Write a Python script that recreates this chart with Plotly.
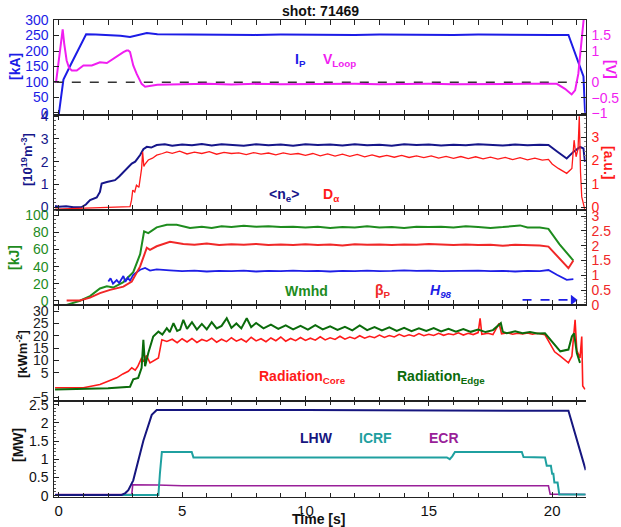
import plotly.graph_objects as go

# ---------------- data (time [s], value) ----------------
IP_KA = [(-0.05, -6), (0.0, -6), (0.08, 42), (0.19, 108), (0.5, 158), (0.8, 205), (1.11, 254), (1.5, 253),
         (2.0, 252), (2.5, 249), (2.89, 245), (3.2, 252), (3.57, 258), (4.0, 254), (5, 253), (6, 252), (7, 253),
         (8, 252), (9, 253), (10, 252), (11, 253), (12, 252), (13, 253), (14, 252), (15, 253), (16, 252),
         (17, 253), (18, 252), (19, 253), (20, 252), (20.66, 252), (21.0, 179), (21.27, 118), (21.33, 10), (21.36, -6)]
VLOOP_V = [(-0.11, 0.0), (0.03, 0.8), (0.16, 1.7), (0.22, 1.25), (0.32, 0.7), (0.42, 0.46), (0.53, 0.38),
           (0.73, 0.38), (1.0, 0.54), (1.34, 0.54), (1.67, 0.64), (1.95, 0.62), (2.28, 0.8), (2.62, 0.97),
           (2.75, 1.02), (2.82, 1.02), (2.89, 0.97), (3.02, 0.54), (3.16, 0.27), (3.36, -0.05), (3.5, -0.14),
           (4.0, -0.08), (5, -0.06), (6, -0.05), (7, -0.07), (8, -0.05), (9, -0.06), (10, -0.05), (11, -0.06),
           (12, -0.05), (13, -0.06), (14, -0.05), (15, -0.05), (16, -0.06), (17, -0.05), (18, -0.06), (19, -0.05),
           (20.19, -0.05), (20.52, -0.21), (20.79, -0.39), (20.93, -0.26), (21.06, 0.27), (21.2, 1.55), (21.3, 2.2)]
ZERO_LINE_T = [-0.2, 21.05]

NE_E19 = [(-0.15, 0.05), (0.0, 0.02), (0.3, 0.04), (0.6, 0.0), (0.93, 0.01), (1.1, 0.12), (1.27, 0.31),
          (1.54, 0.43), (1.67, 0.67), (1.74, 1.04), (1.95, 1.11), (2.28, 1.19), (2.45, 1.35), (2.62, 1.55),
          (2.8, 1.75), (2.96, 1.92), (3.1, 2.0), (3.3, 2.29), (3.43, 2.55), (3.57, 2.65), (3.75, 2.62),
          (3.97, 2.73), (4.3, 2.76), (4.6, 2.7), (5.0, 2.75), (5.4, 2.72), (5.8, 2.78), (6.2, 2.71), (6.6, 2.76),
          (7.0, 2.74), (7.5, 2.7), (8, 2.77), (8.5, 2.72), (9, 2.75), (9.5, 2.7), (10, 2.76), (10.5, 2.73),
          (11, 2.75), (11.5, 2.71), (12, 2.77), (12.5, 2.72), (13, 2.74), (13.5, 2.7), (14, 2.76), (14.5, 2.73),
          (15, 2.75), (15.5, 2.71), (16, 2.74), (16.5, 2.72), (17, 2.77), (17.5, 2.73), (18, 2.71), (18.5, 2.75),
          (19, 2.72), (19.5, 2.74), (19.85, 2.73), (20.2, 2.45), (20.59, 2.14), (20.86, 2.43), (21.13, 2.65),
          (21.27, 2.58), (21.33, 1.99)]
DALPHA_AU = [(-0.15, -0.08), (0.5, -0.06), (1.0, -0.05), (1.5, -0.03), (2.0, -0.02), (2.5, 0.0), (2.89, 0.02),
             (2.95, 0.3), (3.0, 0.73), (3.08, 0.65), (3.15, 0.94), (3.25, 0.85), (3.36, 1.66), (3.4, 2.37),
             (3.45, 1.75), (3.5, 1.85), (3.63, 2.02), (3.8, 2.1), (3.97, 2.23), (4.2, 2.3), (4.38, 2.37),
             (4.6, 2.31), (4.9, 2.4), (5.2, 2.28), (5.5, 2.36), (5.8, 2.3), (6.1, 2.38), (6.4, 2.27), (6.7, 2.35),
             (7.0, 2.3), (7.3, 2.33), (7.6, 2.25), (7.9, 2.34), (8.2, 2.27), (8.5, 2.32), (8.8, 2.24), (9.1, 2.33),
             (9.4, 2.26), (9.7, 2.3), (10.0, 2.22), (10.3, 2.3), (10.6, 2.2), (10.9, 2.28), (11.2, 2.19),
             (11.5, 2.27), (11.8, 2.18), (12.1, 2.26), (12.4, 2.16), (12.7, 2.24), (13.0, 2.15), (13.3, 2.22),
             (13.6, 2.14), (13.9, 2.22), (14.2, 2.13), (14.5, 2.2), (14.8, 2.12), (15.1, 2.2), (15.4, 2.1),
             (15.7, 2.18), (16.0, 2.09), (16.3, 2.17), (16.6, 2.08), (16.9, 2.16), (17.2, 2.07), (17.5, 2.14),
             (17.8, 2.06), (18.1, 2.13), (18.4, 2.04), (18.7, 2.12), (19.0, 2.03), (19.3, 2.1), (19.6, 2.02),
             (19.85, 2.05), (20.0, 1.85), (20.25, 1.66), (20.59, 1.45), (20.8, 1.66), (20.89, 2.87), (20.97, 2.16),
             (21.05, 2.5), (21.1, 3.9), (21.15, 1.5), (21.2, 0.44), (21.33, -0.13)]

WMHD_KJ = [(0.32, -4.6), (0.86, 0.3), (1.27, 5.7), (1.67, 14.5), (1.95, 17.1), (2.21, 15.6), (2.62, 22),
           (3.02, 33.5), (3.3, 54.5), (3.46, 81), (3.63, 79), (3.97, 85.7), (4.38, 88.8), (4.78, 88.8),
           (5.32, 84.9), (5.8, 86.5), (6.2, 85), (6.6, 87), (7.0, 86), (7.5, 87.5), (8.0, 86.5), (8.5, 87),
           (9.0, 86), (9.5, 86.5), (10.0, 85.5), (10.5, 86.5), (11, 85), (11.5, 86), (12, 85.5), (12.5, 87),
           (13, 85.5), (13.5, 86), (14, 85), (14.5, 86.5), (15, 86), (15.5, 86.5), (16, 85.5), (16.5, 87),
           (17, 86), (17.5, 85), (18, 86), (18.5, 87.5), (18.7, 88), (19.0, 85.5), (19.5, 85.5), (19.85, 84),
           (20.3, 66), (20.86, 47)]
BETA_P = [(0.32, 0.15), (0.86, 0.15), (1.27, 0.25), (1.67, 0.4), (2.08, 0.51), (2.62, 0.62), (2.96, 0.79),
          (3.3, 1.3), (3.57, 1.93), (3.7, 1.86), (3.97, 1.98), (4.51, 2.13), (5.05, 2.06), (5.5, 2.03),
          (6, 2.07), (6.5, 2.02), (7, 2.05), (7.5, 2.03), (8, 2.06), (8.5, 2.02), (9, 2.04), (9.5, 2.02),
          (10, 2.05), (10.5, 2.02), (11, 2.04), (11.5, 2.01), (12, 2.05), (12.5, 2.03), (13, 2.04), (13.5, 2.02),
          (14, 2.04), (14.5, 2.03), (15, 2.06), (15.5, 2.04), (16, 2.02), (16.5, 2.04), (17, 2.02), (17.5, 2.03),
          (18, 2.0), (18.5, 2.03), (19, 2.02), (19.5, 2.01), (19.85, 1.97), (20.3, 1.55), (20.66, 1.24),
          (20.86, 1.5)]
H98 = [(2.01, 0.79), (2.1, 0.9), (2.2, 0.72), (2.35, 0.84), (2.45, 0.74), (2.62, 0.98), (2.7, 0.78),
       (2.8, 0.92), (2.89, 0.82), (3.02, 1.02), (3.3, 1.19), (3.5, 1.25), (3.7, 1.16), (3.97, 1.2), (4.5, 1.17),
       (5, 1.14), (5.5, 1.16), (6, 1.13), (6.5, 1.15), (7, 1.14), (7.5, 1.16), (8, 1.13), (8.5, 1.15),
       (9, 1.14), (9.5, 1.16), (10, 1.14), (10.5, 1.15), (11, 1.13), (11.5, 1.15), (12, 1.14), (12.5, 1.16),
       (13, 1.14), (13.5, 1.15), (14, 1.17), (14.5, 1.15), (15, 1.16), (15.5, 1.14), (16, 1.15), (16.5, 1.14),
       (17, 1.16), (17.5, 1.14), (18, 1.15), (18.5, 1.13), (19, 1.15), (19.5, 1.14), (19.85, 1.18),
       (20.19, 1.02), (20.59, 0.85), (20.86, 0.87)]
ARROW_T = [18.8, 20.75, 20.85]
ARROW_Y = 0.17

RAD_CORE = [(-0.15, -1.1), (1.0, -1.1), (1.67, 0.24), (2.35, 2.9), (2.6, 4.5), (2.82, 5.6), (2.96, 7.0),
            (3.1, 6.0), (3.2, 7.5), (3.36, 11), (3.45, 9.5), (3.55, 12), (3.7, 9), (4.04, 11), (4.18, 18.4),
            (4.38, 17.7), (4.6, 18.6), (4.8, 17.2), (5.0, 18.8), (5.2, 17.5), (5.4, 18.9), (5.6, 17.3),
            (5.8, 18.5), (6.0, 17.8), (6.2, 19.0), (6.4, 17.4), (6.6, 18.6), (6.8, 17.6), (7.0, 19.2), (7.2, 17.8),
            (7.4, 18.7), (7.6, 17.5), (7.8, 19.4), (8.0, 17.9), (8.2, 18.8), (8.4, 17.6), (8.6, 19.1), (8.8, 18.0),
            (9.0, 19.5), (9.2, 17.8), (9.4, 18.9), (9.6, 18.0), (9.8, 19.3), (10.0, 18.1), (10.2, 19.0),
            (10.4, 18.2), (10.6, 19.6), (10.8, 18.3), (11.0, 19.2), (11.2, 18.5), (11.4, 19.8), (11.6, 18.6),
            (11.8, 19.5), (12.0, 18.8), (12.2, 20.0), (12.4, 19.0), (12.6, 19.8), (12.8, 19.2), (13.0, 20.3),
            (13.2, 19.3), (13.4, 20.1), (13.6, 19.5), (13.8, 20.6), (14.0, 19.7), (14.2, 20.4), (14.4, 19.8),
            (14.6, 20.9), (14.8, 20.0), (15.0, 20.6), (15.2, 20.1), (15.4, 21.0), (15.6, 20.2), (15.8, 20.8),
            (16.0, 20.4), (16.2, 21.2), (16.4, 20.3), (16.6, 21.0), (16.8, 20.5), (17.0, 21.3), (17.08, 27.1),
            (17.15, 20.6), (17.4, 21.0), (17.6, 20.5), (17.85, 25.0), (17.95, 20.8), (18.2, 21.2), (18.4, 20.6),
            (18.6, 21.0), (18.8, 20.7), (19.0, 21.1), (19.2, 20.6), (19.4, 21.0), (19.71, 20.4), (19.92, 16.4),
            (20.1, 13.5), (20.33, 11.7), (20.5, 10.2), (20.66, 9.0), (20.8, 11.7), (20.93, 26.5), (21.0, 14),
            (21.13, 11), (21.2, 19.7), (21.24, -0.4), (21.33, -1.8)]
RAD_EDGE = [(-0.15, -1.8), (1.0, -1.6), (2.0, -1.3), (2.89, -0.7), (3.02, 2.3), (3.22, 2.9), (3.36, 7.0),
            (3.43, 18.4), (3.5, 7.6), (3.63, 13), (3.83, 19.7), (4.04, 21.7), (4.2, 20.5), (4.38, 23.1),
            (4.5, 21.5), (4.65, 25.1), (4.8, 22.0), (4.92, 22.5), (5.05, 26.5), (5.2, 22.8), (5.4, 25.5),
            (5.6, 22.5), (5.8, 24.8), (6.0, 22.6), (6.2, 25.5), (6.4, 23.0), (6.6, 24.0), (6.81, 27.1),
            (7.0, 23.2), (7.2, 25.0), (7.4, 23.0), (7.62, 27.1), (7.8, 23.5), (8.0, 25.2), (8.3, 23.0),
            (8.6, 24.5), (8.9, 22.8), (9.2, 24.2), (9.5, 22.6), (9.8, 24.0), (10.1, 22.5), (10.4, 24.3),
            (10.7, 22.6), (11.0, 23.8), (11.3, 22.4), (11.6, 23.6), (11.9, 22.2), (12.2, 24.2), (12.5, 22.3),
            (12.8, 23.5), (13.1, 22.2), (13.4, 23.4), (13.7, 22.0), (14.0, 23.2), (14.3, 21.9), (14.6, 23.0),
            (14.9, 22.0), (15.2, 23.1), (15.5, 21.8), (15.8, 22.8), (16.1, 21.7), (16.4, 22.7), (16.7, 21.6),
            (17.0, 22.5), (17.3, 21.5), (17.6, 22.3), (17.92, 25.1), (18.0, 21.6), (18.16, 21.0), (18.5, 21.8),
            (18.8, 21.0), (19.1, 21.5), (19.4, 20.9), (19.71, 21.0), (20.05, 17), (20.33, 13.7), (20.66, 14.4),
            (20.8, 19.7), (20.89, 21), (21.0, 13), (21.13, 9)]

LHW_MW = [(-0.15, 0.02), (2.55, 0.02), (2.7, 0.07), (2.82, 0.15), (3.02, 0.42), (3.43, 1.51), (3.77, 2.22),
          (3.9, 2.32), (3.97, 2.35), (10, 2.35), (15, 2.34), (20.66, 2.33), (21.36, 0.7)]
ICRF_MW = [(-0.15, 0.02), (4.04, 0.02), (4.1, 0.6), (4.18, 1.2), (5.39, 1.2), (5.46, 1.05), (15.73, 1.05),
           (15.85, 1.0), (15.95, 1.08), (16.06, 1.2), (18.77, 1.2), (18.84, 1.06), (19.71, 1.05), (19.78, 0.82),
           (19.95, 0.82), (20.0, 0.6), (20.05, 0.6), (20.09, 0.36), (20.22, 0.36), (20.29, 0.03), (21.36, 0.03)]
ECR_MW = [(-0.15, 0.03), (2.96, 0.03), (3.0, 0.3), (3.3, 0.3), (3.6, 0.28), (4.0, 0.29), (5, 0.27),
          (10, 0.27), (15, 0.27), (19.85, 0.27), (19.92, 0.04), (21.36, 0.03)]

X_TICKS = [0, 5, 10, 15, 20]

# ---------------- styling / layout ----------------
FONT = "Liberation Sans, Arial, sans-serif"
W, H = 621, 527
XL, XR = 54.3, 585.7    # plot area, window pixels
PANELS_PX = [(20, 115), (115, 209.5), (209.5, 305), (305, 401), (401, 496.7)]
XRANGE = [-0.18, 21.36]

C_IP = "#1c1ce6"; C_VL = "#f01ef0"; C_NE = "#16168a"; C_DA = "#ff1a1a"
C_W = "#1e8c1e"; C_B = "#f02828"; C_H = "#1e1ee6"
C_RC = "#ff1a1a"; C_RE = "#0b6b0b"
C_LHW = "#16167f"; C_ICRF = "#1fa0a0"; C_ECR = "#991f99"


def fx(px):
    return px / W


def fy(py):
    return 1 - py / H


fig = go.Figure()


def axname(kind, n):
    return kind if n == 1 else f"{kind}{n}"


def add(points, panel, side, color, width, dash=None):
    yid = 2 * panel - 1 if side == "left" else 2 * panel
    fig.add_trace(go.Scatter(
        x=[p[0] for p in points], y=[p[1] for p in points], mode="lines",
        line=dict(color=color, width=width, dash=dash),
        xaxis=axname("x", panel), yaxis=axname("y", yid), hoverinfo="skip"))


# panel 1
add([(ZERO_LINE_T[0], 0), (ZERO_LINE_T[1], 0)], 1, "right", "#333333", 1.5, "dash")
add(VLOOP_V, 1, "right", C_VL, 2)
add(IP_KA, 1, "left", C_IP, 2)
# panel 2
add(DALPHA_AU, 2, "right", C_DA, 1.3)
add(NE_E19, 2, "left", C_NE, 2)
# panel 3
add(H98, 3, "right", C_H, 1.8)
add(BETA_P, 3, "right", C_B, 2)
add(WMHD_KJ, 3, "left", C_W, 2)
add([(ARROW_T[0], ARROW_Y), (ARROW_T[1], ARROW_Y)], 3, "right", C_H, 1.8, "dash")
fig.add_trace(go.Scatter(x=[ARROW_T[2]], y=[ARROW_Y], mode="markers",
                         marker=dict(symbol="triangle-right", size=9, color=C_H),
                         xaxis="x3", yaxis="y6", hoverinfo="skip"))
# panel 4
add(RAD_CORE, 4, "left", C_RC, 1.6)
add(RAD_EDGE, 4, "left", C_RE, 2)
# panel 5
add(ECR_MW, 5, "left", C_ECR, 1.6)
add(ICRF_MW, 5, "left", C_ICRF, 2)
add(LHW_MW, 5, "left", C_LHW, 2)

left_specs = [
    dict(range=[-6.5, 300], tickvals=[0, 50, 100, 150, 200, 250, 300], color=C_IP, minor=None),
    dict(range=[-0.1, 4.05], tickvals=[0, 1, 2, 3, 4], color=C_NE, minor=0.2),
    dict(range=[-4.7, 106.5], tickvals=[0, 20, 40, 60, 80, 100], color=C_W, minor=5),
    dict(range=[-6.5, 32.5], tickvals=[-5, 5, 10, 15, 20, 25, 30], color="#222222", minor=None),
    dict(range=[-0.03, 2.6], tickvals=[0, 0.5, 1, 1.5, 2, 2.5], color="#111111", minor=0.1),
]
right_specs = [
    dict(range=[-1.05, 2.0], tickvals=[-1, -0.5, 0, 1, 1.5], color=C_VL, minor=None, labels=True),
    dict(range=[-0.1, 3.95], tickvals=[0, 1, 2, 3], color=C_DA, minor=0.2, labels=True),
    dict(range=[0, 3.22], tickvals=[0, 0.5, 1, 1.5, 2, 2.5, 3], color=C_B, minor=0.1, labels=True),
    dict(range=[-6.5, 32.5], tickvals=[-5, 0, 5, 10, 15, 20, 25, 30], color="#222222", minor=None, labels=False),
    dict(range=[-0.03, 2.6], tickvals=[0, 0.5, 1, 1.5, 2, 2.5], color="#111111", minor=0.1, labels=False),
]

layout = dict(
    width=W, height=H, margin=dict(l=0, r=0, t=0, b=0, autoexpand=False),
    paper_bgcolor="white", plot_bgcolor="white", showlegend=False,
    font=dict(family=FONT, size=14, color="#111111"),
)
xdom = [fx(XL), fx(XR)]
for i in range(5):
    p = i + 1
    top, bot = PANELS_PX[i]
    ydomain = [fy(bot), fy(top)]
    lid, rid = 2 * p - 1, 2 * p
    xa = dict(domain=xdom, anchor=axname("y", lid), range=XRANGE, showline=True, linecolor="#222222",
              linewidth=1, mirror="allticks", ticks="inside", ticklen=5, tickcolor="#222222",
              tickvals=X_TICKS, showgrid=False, zeroline=False, showticklabels=(p == 5),
              tickfont=dict(size=15, color="#111111"),
              minor=dict(ticks="inside", dtick=1, ticklen=4, tickcolor="#222222", showgrid=False))
    if p > 1:
        xa["matches"] = "x"
    layout[axname("xaxis", p)] = xa
    ls = left_specs[i]
    ya = dict(domain=ydomain, anchor=axname("x", p), range=ls["range"], tickvals=ls["tickvals"],
              showline=True, linecolor="#222222", linewidth=1, ticks="inside", ticklen=5,
              tickcolor="#222222", showgrid=False, zeroline=False, ticklabelstandoff=2,
              tickfont=dict(size=14, color=ls["color"]))
    if ls["minor"]:
        ya["minor"] = dict(ticks="inside", dtick=ls["minor"], ticklen=2, tickcolor="#555555", showgrid=False)
    layout[axname("yaxis", lid)] = ya
    rs = right_specs[i]
    yr = dict(overlaying=axname("y", lid), side="right", anchor=axname("x", p), range=rs["range"],
              tickvals=rs["tickvals"], showline=True, linecolor="#222222", linewidth=1, ticks="inside",
              ticklen=5, tickcolor="#222222", showgrid=False, zeroline=False, showticklabels=rs["labels"],
              ticklabelstandoff=2, tickfont=dict(size=14, color=rs["color"]))
    if rs["minor"]:
        yr["minor"] = dict(ticks="inside", dtick=rs["minor"], ticklen=2, tickcolor="#888888", showgrid=False)
    layout[axname("yaxis", rid)] = yr

fig.update_layout(**layout)


def ann(text, px, py, color, size=14, angle=0, xanchor="left"):
    fig.add_annotation(text=text, x=fx(px), y=fy(py), xref="paper", yref="paper",
                       xanchor=xanchor, yanchor="middle", showarrow=False, textangle=angle,
                       font=dict(family=FONT, size=size, color=color))


# title and x label
ann("<b>shot: 71469</b>", 320, 11, "#111111", 14, xanchor="center")
ann("<b>Time [s]</b>", 319, 519, "#111111", 14, xanchor="center")
# axis titles
ann("<b>[kA]</b>", 15, 67, C_IP, 14, -90, "center")
ann("<b>[V]</b>", 611, 69, C_VL, 14, 90, "center")
ann("<b>[10<sup>19</sup>m<sup>-3</sup>]</b>", 27, 160, C_NE, 13, -90, "center")
ann("<b>[a.u.]</b>", 609, 162, C_DA, 14, 90, "center")
ann("<b>[kJ]</b>", 14, 258, C_W, 14, -90, "center")
ann("<b>[kWm<sup>-2</sup>]</b>", 22, 354, "#111111", 13, -90, "center")
ann("<b>[MW]</b>", 18, 445, "#111111", 14, -90, "center")
# legends
ann("<b>I<sub>P</sub></b>", 293, 60, C_IP)
ann("<b>V<sub>Loop</sub></b>", 321, 60, C_VL)
ann("<b>&lt;n<sub>e</sub>&gt;</b>", 267, 195, C_NE)
ann("<b>D<sub>α</sub></b>", 321, 195, C_DA)
ann("<b>Wmhd</b>", 283, 291, C_W)
ann("<b>β<sub>P</sub></b>", 373, 291, C_B)
ann("<b><i>H<sub>98</sub></i></b>", 428, 291, C_H)
ann("<b>Radiation<sub>Core</sub></b>", 257, 377, C_RC)
ann("<b>Radiation<sub>Edge</sub></b>", 395, 377, C_RE)
ann("<b>LHW</b>", 298, 438, C_LHW)
ann("<b>ICRF</b>", 357, 438, C_ICRF)
ann("<b>ECR</b>", 427, 438, C_ECR)

fig.write_html("out.html", config={"displayModeBar": False},
               post_script="document.body.style.margin='0px';")
